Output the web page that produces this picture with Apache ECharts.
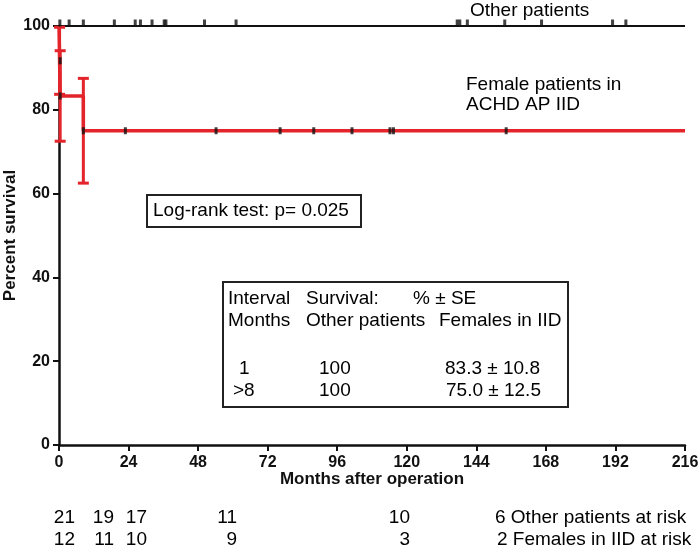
<!DOCTYPE html>
<html>
<head>
<meta charset="utf-8">
<script src="https://cdn.jsdelivr.net/npm/echarts@6/dist/echarts.min.js"></script>
<style>html,body{margin:0;padding:0;background:#fff}#c{width:700px;height:550px}</style>
</head>
<body>
<div id="c"></div>
<script>
// ---- data ----
const otherTimes = [0, 216];
const otherSurv = [100, 100];
const femTimes = [0, 0.2, 0.4, 8.4, 216];
const femSurv = [100, 91.7, 83.3, 75, 75];
const errTimes = [0.2, 0.4, 8.4];
const errSurv = [91.7, 83.3, 75];
const errSE = [8.0, 10.8, 12.5];
const otherCensorTimes = [0.3, 3.5, 8.4, 19.1, 26.3, 28.1, 32.1, 36.3, 36.9, 50.2, 61.1, 137.4, 138.3, 140.9, 153.8, 166.5, 191.0, 195.6];
const femCensorTimes = [0.4, 0.4, 8.4, 22.9, 54.2, 76.3, 87.9, 101.1, 114.2, 115.4, 154.3];
const femCensorSurv = [91.7, 83.3, 75, 75, 75, 75, 75, 75, 75, 75, 75];
const riskOther = ['21', '19', '17', '11', '10'];
const riskFem = ['12', '11', '10', '9', '3'];
const riskOtherEnd = '6 Other patients at risk';
const riskFemEnd = '2 Females in IID at risk';
const tableHead1 = ['Interval', 'Survival:', '% \u00b1 SE'];
const tableHead2 = ['Months', 'Other patients', 'Females in IID'];
const tableRows = [['1', '100', '83.3 \u00b1 10.8'], ['>8', '100', '75.0 \u00b1 12.5']];
const xTicks = {min: 0, max: 216, interval: 24};
const yTicks = {min: 0, max: 100, interval: 20};

const RED = '#e3242b';
const FONT = '"Liberation Sans", Arial, sans-serif';
const chart = echarts.init(document.getElementById('c'));

function txt(text, x, y, align) {
  return {type: 'text', x: x, y: y, z: 100,
    style: {text: text, font: '19px ' + FONT, fill: '#000',
      align: align || 'left', textAlign: align || 'left',
      verticalAlign: 'middle', textVerticalAlign: 'middle'}};
}

const graphics = [
  txt('Other patients', 470, 11),
  txt('Female patients in', 466, 85),
  txt('ACHD AP IID', 466, 105),
  {type: 'rect', z: 90, shape: {x: 147, y: 195, width: 214, height: 32},
    style: {fill: '#fff', stroke: '#222', lineWidth: 2}},
  txt('Log-rank test: p= 0.025', 153, 211),
  {type: 'rect', z: 90, shape: {x: 223, y: 282, width: 345, height: 125},
    style: {fill: '#fff', stroke: '#222', lineWidth: 2}},
  txt(tableHead1[0], 228, 299), txt(tableHead1[1], 306, 299), txt(tableHead1[2], 413, 299),
  txt(tableHead2[0], 228, 321), txt(tableHead2[1], 306, 321), txt(tableHead2[2], 439, 321),
  txt(tableRows[0][0], 239, 369), txt(tableRows[0][1], 319, 369), txt(tableRows[0][2], 445, 369),
  txt(tableRows[1][0], 233, 391), txt(tableRows[1][1], 319, 391), txt(tableRows[1][2], 446, 391)
];
const riskX = [75, 114, 147, 237, 410];
riskOther.forEach((t, i) => graphics.push(txt(t, riskX[i], 518, 'right')));
riskFem.forEach((t, i) => graphics.push(txt(t, riskX[i], 540, 'right')));
graphics.push(txt(riskOtherEnd, 495, 518));
graphics.push(txt(riskFemEnd, 497, 540));

const axisCommon = {
  axisLine: {show: true, lineStyle: {color: '#111', width: 2.5}},
  axisTick: {show: true, length: 6, lineStyle: {color: '#111', width: 2}},
  splitLine: {show: false},
  nameMoveOverlap: false,
  nameTextStyle: {fontFamily: FONT, fontWeight: 'bold', fontSize: 17, color: '#111'}
};

chart.setOption({
  animation: false,
  backgroundColor: '#fff',
  grid: {left: 59, right: 15, top: 26, bottom: 105, containLabel: false, outerBoundsMode: 'none'},
  xAxis: Object.assign({type: 'value', min: xTicks.min, max: xTicks.max, interval: xTicks.interval,
    name: 'Months after operation', nameLocation: 'middle', nameGap: 26,
    axisLabel: {fontFamily: FONT, fontWeight: 'bold', fontSize: 16, color: '#111', margin: 10}}, axisCommon),
  yAxis: Object.assign({type: 'value', min: yTicks.min, max: yTicks.max, interval: yTicks.interval,
    name: 'Percent survival', nameLocation: 'middle', nameGap: 40,
    axisLabel: {fontFamily: FONT, fontWeight: 'bold', fontSize: 16, color: '#111', margin: 9}}, axisCommon),
  graphic: {elements: graphics},
  series: [
    {type: 'line', name: 'Other', data: otherTimes.map((t, i) => [t, otherSurv[i]]),
      showSymbol: false, lineStyle: {color: '#111', width: 2}, z: 3},
    {type: 'line', name: 'Female', step: 'end', data: femTimes.map((t, i) => [t, femSurv[i]]),
      showSymbol: false, lineStyle: {color: RED, width: 3.5}, z: 4},
    {type: 'custom', name: 'err', z: 5,
      data: errTimes.map((t, i) => [t, errSurv[i] - errSE[i], errSurv[i] + errSE[i]]),
      renderItem: function (params, api) {
        const lo = api.coord([api.value(0), api.value(1)]);
        const hi = api.coord([api.value(0), api.value(2)]);
        const hw = 5.5;
        const st = {stroke: RED, lineWidth: 3};
        return {type: 'group', children: [
          {type: 'line', shape: {x1: lo[0], y1: lo[1], x2: hi[0], y2: hi[1]}, style: st},
          {type: 'line', shape: {x1: lo[0] - hw, y1: lo[1], x2: lo[0] + hw, y2: lo[1]}, style: st},
          {type: 'line', shape: {x1: hi[0] - hw, y1: hi[1], x2: hi[0] + hw, y2: hi[1]}, style: st}
        ]};
      }},
    {type: 'scatter', name: 'otherCensor', data: otherCensorTimes.map(t => [t, 100]),
      symbol: 'rect', symbolSize: [3, 7], symbolOffset: [0, -3], itemStyle: {color: '#111'}, z: 6},
    {type: 'scatter', name: 'femCensor', data: femCensorTimes.map((t, i) => [t, femCensorSurv[i]]),
      symbol: 'rect', symbolSize: [3, 7], itemStyle: {color: '#111'}, z: 6}
  ]
});
</script>
</body>
</html>
